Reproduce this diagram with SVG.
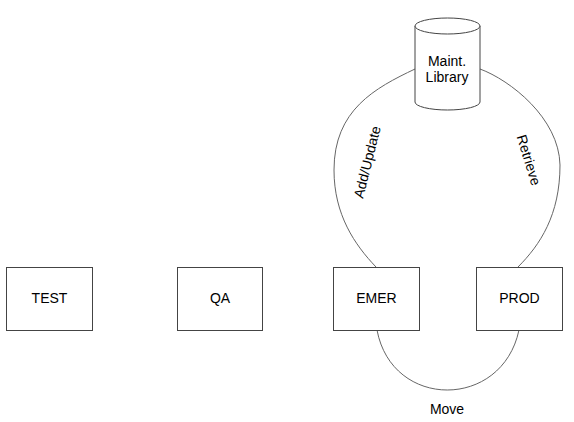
<svg xmlns="http://www.w3.org/2000/svg" width="574" height="422" viewBox="0 0 574 422">
<style>
.box{fill:#fff;stroke:#444;stroke-width:1}
.edge{fill:none;stroke:#666;stroke-width:1}
text{font-family:"Liberation Sans",Arial,sans-serif;font-size:14px;fill:#000;text-anchor:middle}
</style>
<rect width="574" height="422" fill="#fff"/>
<g id="connectors">
<path class="edge" d="M415,69 C375,88 334,110 334,170 C334,215 355,245 376,267"/>
<path class="edge" d="M480,69 C510,80 559,118 560,165 C560,215 540,245 518,267"/>
<path class="edge" d="M377,330 C392,410 502,410 519,330"/>
<text transform="translate(367,162) rotate(-76)" y="5">Add/Update</text>
<text transform="translate(529,160) rotate(73)" y="5">Retrieve</text>
<text x="447" y="414">Move</text>
</g>
<g id="maint-library">
<path class="box" d="M415,26 L415,102 A32.5,8 0 0 0 480,102 L480,26"/>
<ellipse class="box" cx="447.5" cy="26" rx="32.5" ry="8"/>
<text x="447" y="66">Maint.</text>
<text x="447" y="82">Library</text>
</g>
<g id="test">
<rect class="box" x="6.5" y="267.5" width="86" height="63"/>
<text x="49.5" y="303">TEST</text>
</g>
<g id="qa">
<rect class="box" x="177.5" y="267.5" width="85" height="63"/>
<text x="220" y="303">QA</text>
</g>
<g id="emer">
<rect class="box" x="333.5" y="267.5" width="86" height="63"/>
<text x="376.5" y="303">EMER</text>
</g>
<g id="prod">
<rect class="box" x="476.5" y="267.5" width="86" height="63"/>
<text x="519.5" y="303">PROD</text>
</g>
</svg>
